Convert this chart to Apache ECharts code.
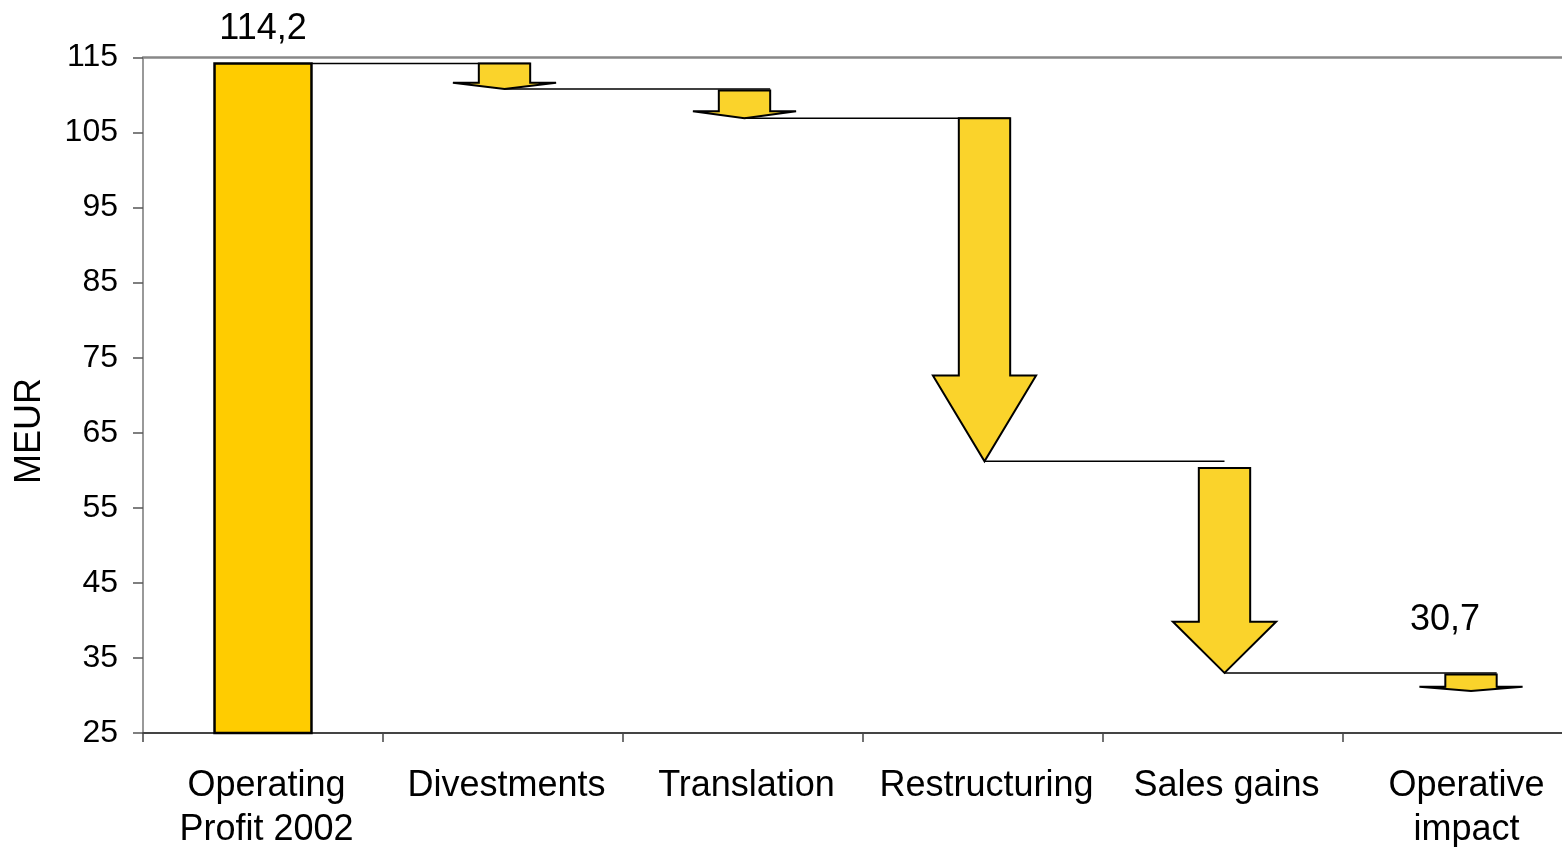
<!DOCTYPE html>
<html>
<head>
<meta charset="utf-8">
<script src="https://cdn.jsdelivr.net/npm/echarts@6/dist/echarts.min.js"></script>
<style>
html,body{margin:0;padding:0;background:#fff;}
#chart{width:1562px;height:847px;}
</style>
</head>
<body>
<div id="chart"></div>
<script>
// ---- data ----
const categories = ['Operating\nProfit 2002', 'Divestments', 'Translation', 'Restructuring', 'Sales gains', 'Operative\nimpact'];
const startValues = [25, 114.2, 110.6, 106.9, 60.3, 32.8];
const endValues   = [114.2, 110.8, 106.9, 61.2, 33.0, 30.6];
const valueLabels = ['114,2', '', '', '', '', '30,7'];
const yTicks = [25, 35, 45, 55, 65, 75, 85, 95, 105, 115];
const yAxisTitle = 'MEUR';

const FONT = '"Liberation Sans", Arial, sans-serif';
const chart = echarts.init(document.getElementById('chart'), null, {renderer: 'canvas'});

function renderItem(params, api) {
  const i = params.dataIndex;
  const w = api.size([1, 0])[0];
  const children = [];
  const c = api.coord([i, startValues[i]]);
  const e = api.coord([i, endValues[i]]);
  const cx = c[0] + (i === 5 ? 8 : 1.5);
  const bodyHalf = w * 0.107;
  const headHalf = w * 0.215;
  const barHalf = w * 0.202;

  if (i > 0) {
    const pp = api.coord([i - 1, endValues[i - 1]]);
    let x0 = (i === 1) ? pp[0] + barHalf : pp[0] + 1.5;
    let x1 = (i === 4) ? cx : cx + bodyHalf;
    children.push({
      type: 'line',
      shape: {x1: x0, y1: pp[1], x2: x1, y2: pp[1]},
      style: {stroke: '#000', lineWidth: 1.6}
    });
  }

  if (i === 0) {
    children.push({
      type: 'rect',
      shape: {x: c[0] - barHalf, y: e[1], width: barHalf * 2, height: c[1] - e[1]},
      style: {fill: '#FFCC00', stroke: '#000', lineWidth: 2.5}
    });
  } else {
    const yTop = c[1], yTip = e[1];
    const L = yTip - yTop;
    const yHead = yTip - L * 0.25;
    children.push({
      type: 'polygon',
      shape: {points: [
        [cx - bodyHalf, yTop], [cx + bodyHalf, yTop], [cx + bodyHalf, yHead],
        [cx + headHalf, yHead], [cx, yTip], [cx - headHalf, yHead], [cx - bodyHalf, yHead]
      ]},
      style: {fill: '#FAD32B', stroke: '#000', lineWidth: 2, lineJoin: 'miter'}
    });
  }

  if (valueLabels[i]) {
    let tx, ty;
    if (i === 0) { tx = c[0]; ty = e[1] - 34; }
    else { tx = c[0] - 18; ty = e[1] - 71; }
    children.push({
      type: 'text',
      style: {text: valueLabels[i], x: tx, y: ty, fill: '#000', fontSize: 36, fontFamily: FONT,
               align: 'center', verticalAlign: 'middle'}
    });
  }
  return {type: 'group', children};
}

const option = {
  animation: false,
  backgroundColor: '#fff',
  grid: {left: 143, top: 57.5, bottom: 114, right: -21, containLabel: false, outerBoundsMode: 'none'},
  graphic: [{
    type: 'text',
    x: 30, y: 431,
    rotation: Math.PI / 2,
    style: {text: yAxisTitle, fill: '#000', fontSize: 36, fontFamily: FONT, align: 'center', verticalAlign: 'middle'}
  }],
  xAxis: [{
    type: 'category',
    data: categories,
    position: 'bottom',
    axisLine: {lineStyle: {color: '#444', width: 2}},
    axisTick: {show: true, length: 9, interval: 0, lineStyle: {color: '#444', width: 1.5}},
    axisLabel: {interval: 0, margin: 31, color: '#000', fontSize: 36, lineHeight: 44, fontFamily: FONT,
                padding: [0, 0, 0, 7]}
  }, {
    type: 'category',
    data: categories,
    position: 'top',
    axisLine: {lineStyle: {color: '#888', width: 2.5}},
    axisTick: {show: false},
    axisLabel: {show: false}
  }],
  yAxis: {
    type: 'value',
    min: 25, max: 115, interval: 10,
    axisLine: {show: true, lineStyle: {color: '#777', width: 1.5}},
    axisTick: {show: true, length: 10, lineStyle: {color: '#555', width: 1.5}},
    axisLabel: {margin: 25, color: '#000', fontSize: 32, fontFamily: FONT,
      formatter: v => yTicks.includes(v) ? String(v) : ''},
    splitLine: {show: false}
  },
  series: [{
    type: 'custom',
    renderItem: renderItem,
    clip: false,
    data: categories.map((c, i) => [i, startValues[i], endValues[i]])
  }]
};
chart.setOption(option);
</script>
</body>
</html>
